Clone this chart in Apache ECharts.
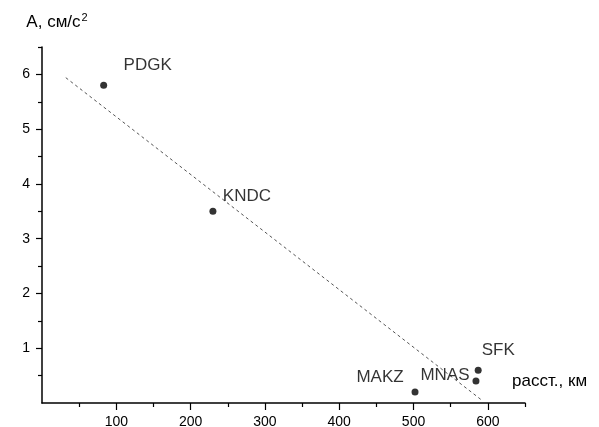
<!DOCTYPE html>
<html>
<head>
<meta charset="utf-8">
<script src="https://cdn.jsdelivr.net/npm/echarts@6/dist/echarts.min.js"></script>
<style>
  html, body { margin: 0; padding: 0; background: #fff; }
  #chart { width: 599px; height: 427px; }
</style>
</head>
<body>
<div id="chart"></div>
<script>
// Station amplitudes versus epicentral distance
const stations = ['PDGK', 'KNDC', 'MAKZ', 'MNAS', 'SFK'];
const distanceKm = [83, 230, 502, 584, 587];
const amplitude = [5.8, 3.5, 0.2, 0.4, 0.6];

// Fitted linear trend, drawn between its two end points
const trendDistance = [32, 592];
const trendAmplitude = [5.94, 0.05];

// Axis ticks
const xMajorTicks = [100, 200, 300, 400, 500, 600];
const xMinorTicks = [50, 150, 250, 350, 450, 550, 650];
const yMajorTicks = [1, 2, 3, 4, 5, 6];
const yMinorTicks = [0.5, 1.5, 2.5, 3.5, 4.5, 5.5, 6.5];

// Where each station name sits relative to its dot (px)
const labelOffset = {
  PDGK: [44, -20],
  KNDC: [34, -15],
  MAKZ: [-35, -15],
  MNAS: [-31, -6],
  SFK: [20, -20]
};

const FONT = 'Liberation Sans, Arial, sans-serif';
const X_RANGE = [0, 650];
const Y_RANGE = [0, 6.5];

const chart = echarts.init(document.getElementById('chart'), null, { renderer: 'canvas' });

const stationPoints = stations.map((name, i) => ({
  name: name,
  value: [distanceKm[i], amplitude[i]],
  label: { offset: labelOffset[name] }
}));

const trendPoints = trendDistance.map((d, i) => [d, trendAmplitude[i]]);

const axisLine = { show: true, onZero: false, lineStyle: { color: '#000', width: 1.5 } };

chart.setOption({
  animation: false,
  backgroundColor: '#fff',
  grid: { left: 42, right: 74, top: 47, bottom: 24, outerBoundsMode: 'none', containLabel: false },
  xAxis: [
    {
      type: 'value', position: 'bottom', min: X_RANGE[0], max: X_RANGE[1],
      axisLine: axisLine,
      axisTick: { show: true, customValues: xMajorTicks, length: 7, lineStyle: { color: '#000', width: 1.2 } },
      axisLabel: { customValues: xMajorTicks, color: '#000', fontFamily: FONT, fontSize: 14, margin: 12 },
      splitLine: { show: false },
      name: 'расст., км',
      nameLocation: 'end',
      nameGap: -13,
      nameTextStyle: {
        color: '#000', fontFamily: FONT, fontSize: 17,
        align: 'left', verticalAlign: 'bottom', padding: [0, 0, 13, 0]
      }
    },
    {
      type: 'value', position: 'bottom', min: X_RANGE[0], max: X_RANGE[1],
      axisLine: { show: false },
      axisTick: { show: true, customValues: xMinorTicks, length: 4, lineStyle: { color: '#000', width: 1.2 } },
      axisLabel: { show: false },
      splitLine: { show: false }
    }
  ],
  yAxis: [
    {
      type: 'value', position: 'left', min: Y_RANGE[0], max: Y_RANGE[1],
      axisLine: axisLine,
      axisTick: { show: true, customValues: yMajorTicks, length: 6, lineStyle: { color: '#000', width: 1.2 } },
      axisLabel: { customValues: yMajorTicks, color: '#000', fontFamily: FONT, fontSize: 14, margin: 12 },
      splitLine: { show: false },
      name: 'А, см/с{sup|2}',
      nameLocation: 'end',
      nameGap: 14,
      nameTextStyle: {
        color: '#000', fontFamily: FONT, fontSize: 17,
        align: 'center', padding: [0, 0, 0, 30],
        rich: { sup: { fontFamily: FONT, fontSize: 11, color: '#000', verticalAlign: 'bottom', padding: [0, 0, 10, 1] } }
      }
    },
    {
      type: 'value', position: 'left', min: Y_RANGE[0], max: Y_RANGE[1],
      axisLine: { show: false },
      axisTick: { show: true, customValues: yMinorTicks, length: 4, lineStyle: { color: '#000', width: 1.2 } },
      axisLabel: { show: false },
      splitLine: { show: false }
    }
  ],
  series: [
    {
      type: 'line',
      data: trendPoints,
      showSymbol: false,
      symbol: 'none',
      lineStyle: { color: '#555', width: 1, type: [3, 3] },
      silent: true,
      z: 1
    },
    {
      type: 'scatter',
      data: stationPoints,
      symbol: 'circle',
      symbolSize: 7,
      itemStyle: { color: '#000' },
      label: {
        show: true,
        position: 'inside',
        formatter: '{b}',
        color: '#000',
        fontFamily: FONT,
        fontSize: 17,
        align: 'center',
        verticalAlign: 'middle'
      },
      z: 3
    }
  ]
});
</script>
</body>
</html>
